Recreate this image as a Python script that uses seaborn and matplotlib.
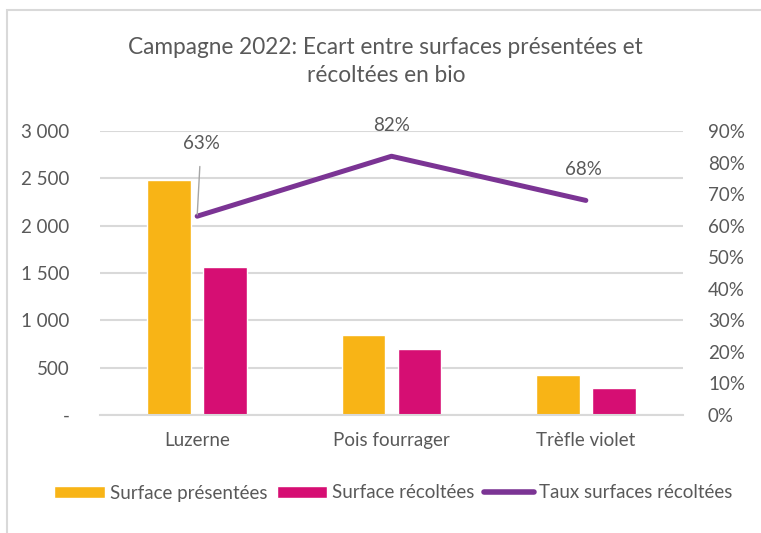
import numpy as np
import pandas as pd
import matplotlib
matplotlib.use("Agg")
import matplotlib.pyplot as plt
import matplotlib.ticker as mtick
from matplotlib.patches import Rectangle
from matplotlib.lines import Line2D
import seaborn as sns

# data
categories = ["Luzerne", "Pois fourrager", "Trèfle violet"]
surface_presentees = [2480, 850, 425]
surface_recoltees = [1560, 695, 290]
taux_recoltees = [0.63, 0.82, 0.68]
taux_labels = ["63%", "82%", "68%"]
series_names = ["Surface présentées", "Surface récoltées"]
line_name = "Taux surfaces récoltées"
left_ticks = [0, 500, 1000, 1500, 2000, 2500, 3000]
right_ticks = [0, 0.1, 0.2, 0.3, 0.4, 0.5, 0.6, 0.7, 0.8, 0.9]

ORANGE = "#F8B416"
MAGENTA = "#D60E73"
PURPLE = "#7B3494"
TEXT = "#595959"
GRID = "#D9D9D9"
FS = 13.5

sns.set_style("white")
plt.rcParams["font.family"] = ["Lato", "DejaVu Sans"]

df = pd.DataFrame({
    "categorie": categories * 2,
    "valeur": surface_presentees + surface_recoltees,
    "serie": [series_names[0]] * 3 + [series_names[1]] * 3,
})

fig = plt.figure(figsize=(7.61, 5.33), dpi=100)
ax = fig.add_axes([100 / 761, 1 - 415 / 533, 583 / 761, 284 / 533])

sns.barplot(
    data=df, x="categorie", y="valeur", hue="serie",
    palette=[ORANGE, MAGENTA], width=0.576, gap=0.215,
    saturation=1, ax=ax, legend=False,
)
ax.set_xlim(-0.5, len(categories) - 0.5)
ax.set_ylim(0, 3000)
ax.set_yticks(left_ticks)
ax.yaxis.set_major_formatter(
    mtick.FuncFormatter(lambda v, _: "-" if v == 0 else f"{int(v):,}".replace(",", " "))
)
ax.grid(axis="y", color=GRID, linewidth=1.5)
ax.set_axisbelow(True)
for s in ["top", "right", "left"]:
    ax.spines[s].set_visible(False)
ax.spines["bottom"].set_color(GRID)
ax.spines["bottom"].set_linewidth(1.5)
ax.set_xlabel("")
ax.set_ylabel("")
ax.tick_params(axis="y", length=0, pad=22, labelsize=FS, labelcolor=TEXT)
ax.tick_params(axis="x", length=0, pad=12, labelsize=FS, labelcolor=TEXT)

ax2 = ax.twinx()
sns.lineplot(x=categories, y=taux_recoltees, sort=False, color=PURPLE,
             linewidth=3.6, solid_capstyle="round", ax=ax2)
ax2.set_xlim(-0.5, len(categories) - 0.5)
ax2.set_ylim(0, 0.9)
ax2.set_yticks(right_ticks)
ax2.yaxis.set_major_formatter(mtick.PercentFormatter(1.0, decimals=0))
ax2.tick_params(axis="y", length=0, pad=18, labelsize=FS, labelcolor=TEXT)
for s in ax2.spines.values():
    s.set_visible(False)

# data labels
ax2.annotate(taux_labels[0], xy=(0, taux_recoltees[0]), xytext=(0.02, 0.86),
             ha="center", va="center", fontsize=FS, color=TEXT,
             arrowprops=dict(arrowstyle="-", color="#A6A6A6", lw=1,
                             shrinkA=8, shrinkB=1))
ax2.annotate(taux_labels[1], xy=(1, taux_recoltees[1]), xytext=(0, 22),
             textcoords="offset points", ha="center", va="center",
             fontsize=FS, color=TEXT)
ax2.annotate(taux_labels[2], xy=(2, taux_recoltees[2]), xytext=(-2, 22),
             textcoords="offset points", ha="center", va="center",
             fontsize=FS, color=TEXT)

fig.text(0.507, 1 - 47 / 533, "Campagne 2022: Ecart entre surfaces présentées et",
         ha="center", va="center", fontsize=16.3, color=TEXT)
fig.text(0.507, 1 - 75 / 533, "récoltées en bio",
         ha="center", va="center", fontsize=16.3, color=TEXT)

handles = [
    Rectangle((0, 0), 1, 1, facecolor=ORANGE),
    Rectangle((0, 0), 1, 1, facecolor=MAGENTA),
    Line2D([0], [0], color=PURPLE, linewidth=4, solid_capstyle="round"),
]
fig.legend(handles, series_names + [line_name], loc="center",
           bbox_to_anchor=(0.517, 1 - 493 / 533), ncol=3, frameon=False,
           fontsize=FS, labelcolor=TEXT, handlelength=2.7, handleheight=0.65,
           handletextpad=0.25, columnspacing=0.5)

# outer chart frame
fig.add_artist(Rectangle((6.5 / 761, -0.1), 1.2, 1.1 - 10.5 / 533,
                         transform=fig.transFigure, fill=False,
                         edgecolor=GRID, linewidth=1.5))

fig.savefig("out.png", dpi=100)
